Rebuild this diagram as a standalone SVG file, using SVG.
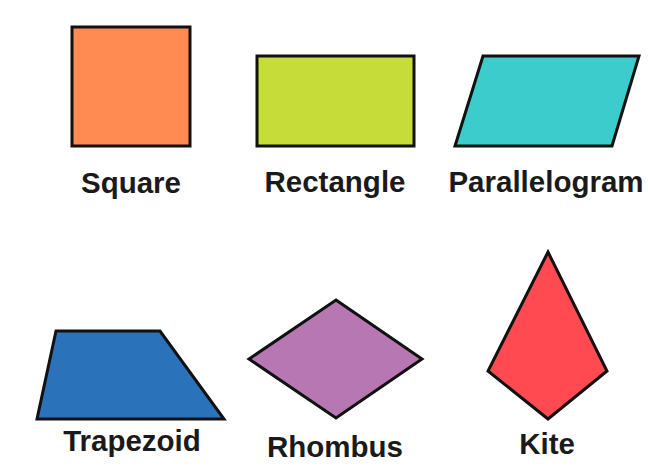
<svg xmlns="http://www.w3.org/2000/svg" width="648" height="475" viewBox="0 0 648 475">
<style>
.s{stroke:#111;stroke-width:3;stroke-linejoin:miter}
.t{font-family:"Liberation Sans",Arial,sans-serif;font-weight:bold;font-size:29.5px;fill:#1a1a1a;text-anchor:middle}
</style>
<rect width="648" height="475" fill="#fff"/>
<g id="square"><rect class="s" x="72" y="27" width="118" height="119" fill="#FF8A52"/><text class="t" x="131" y="193">Square</text></g>
<g id="rectangle"><rect class="s" x="257" y="56" width="157" height="90" fill="#C5DC39"/><text class="t" x="335" y="192">Rectangle</text></g>
<g id="parallelogram"><polygon class="s" points="483,56 639,56 612,146 455,146" fill="#3CCCCB"/><text class="t" x="546" y="192">Parallelogram</text></g>
<g id="trapezoid"><polygon class="s" points="56,331 160,331 224,419 37,419" fill="#2A72BA"/><text class="t" x="132" y="451">Trapezoid</text></g>
<g id="rhombus"><polygon class="s" points="336,300 422,359 336,418 249,359" fill="#B677B3"/><text class="t" x="335" y="457">Rhombus</text></g>
<g id="kite"><polygon class="s" points="548,252 607,371 548,419 488,371" fill="#FF4A52"/><text class="t" x="547" y="454">Kite</text></g>
<g id="connectors"/>
</svg>
